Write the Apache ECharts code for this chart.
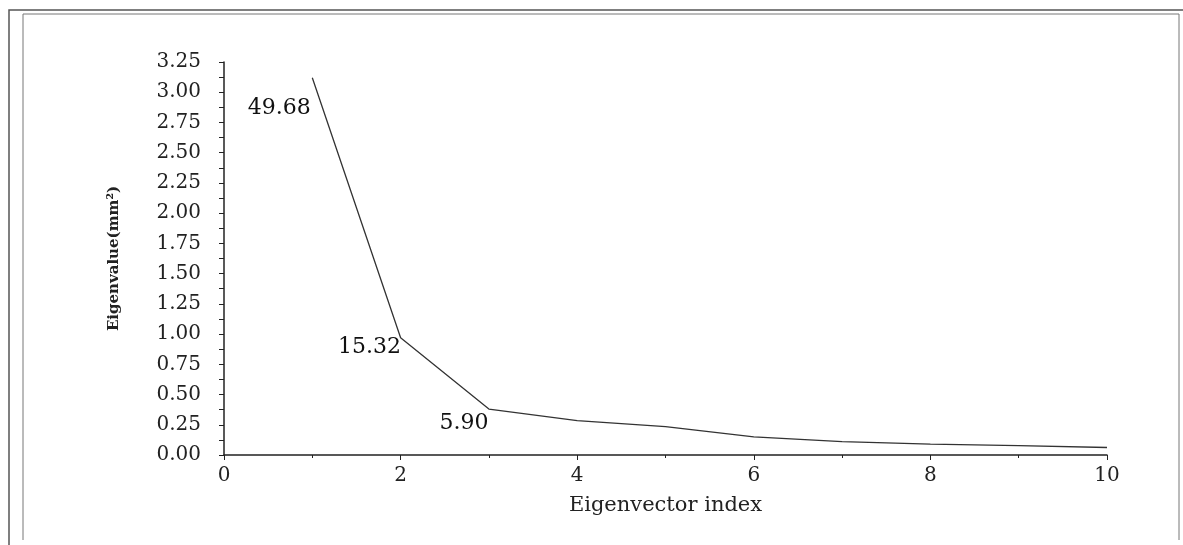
<!DOCTYPE html>
<html><head><meta charset="utf-8">
<script src="https://cdn.jsdelivr.net/npm/echarts@6/dist/echarts.min.js"></script>
<style>html,body{margin:0;padding:0;background:#fff}#c{width:1183px;height:545px}</style>
</head><body><div id="c"></div>
<script>
const xIndex = [1, 2, 3, 4, 5, 6, 7, 8, 9, 10];
const eigenvalues = [3.12, 0.97, 0.38, 0.285, 0.235, 0.15, 0.11, 0.09, 0.078, 0.062];
const pointLabels = ['49.68', '15.32', '5.90', '', '', '', '', '', '', ''];
const labelOffsets = [[-1, 31], [1, 10], [0, 14], [0,0],[0,0],[0,0],[0,0],[0,0],[0,0],[0,0]];
const xTitle = 'Eigenvector index';
const yTitle = 'Eigenvalue(mm²)';

const font = 'DejaVu Serif, Liberation Serif, serif';
const chart = echarts.init(document.getElementById('c'), null, {renderer: 'canvas'});
chart.setOption({
  animation: false,
  backgroundColor: '#fff',
  graphic: [
    {type: 'polyline', shape: {points: [[9, 545], [9, 10], [1183, 10]]}, style: {stroke: '#555', lineWidth: 1.5, fill: null}},
    {type: 'polyline', shape: {points: [[23, 540], [23, 14], [1179, 14], [1179, 540]]}, style: {stroke: '#777', lineWidth: 1, fill: null}}
  ],
  grid: {left: 224, right: 76, top: 62, bottom: 90},
  xAxis: {
    type: 'value', min: 0, max: 10, interval: 2,
    name: xTitle, nameLocation: 'middle', nameGap: 40,
    nameTextStyle: {fontFamily: font, fontSize: 21, color: '#222'},
    axisLine: {lineStyle: {color: '#222', width: 1.5}},
    axisTick: {show: true, length: 5, lineStyle: {color: '#222'}},
    minorTick: {show: true, splitNumber: 2, length: 3, lineStyle: {color: '#222'}},
    splitLine: {show: false},
    axisLabel: {fontFamily: font, fontSize: 20, color: '#222', margin: 11}
  },
  yAxis: {
    type: 'value', min: 0, max: 3.25, interval: 0.25,
    name: yTitle, nameLocation: 'middle', nameGap: 102, nameRotate: 90,
    nameTextStyle: {fontFamily: font, fontSize: 15, fontWeight: 'bold', color: '#222'},
    axisLine: {show: true, lineStyle: {color: '#222', width: 1.5}},
    axisTick: {show: true, length: 5, lineStyle: {color: '#222'}},
    minorTick: {show: true, splitNumber: 2, length: 5, lineStyle: {color: '#222'}},
    splitLine: {show: false},
    axisLabel: {fontFamily: font, fontSize: 20, color: '#222', margin: 23,
      formatter: v => v.toFixed(2)}
  },
  series: [{
    type: 'line',
    showSymbol: false, symbol: 'none',
    lineStyle: {color: '#333', width: 1.3},
    data: xIndex.map((x, i) => [x, eigenvalues[i]])
  }, {
    type: 'scatter',
    symbolSize: 1,
    itemStyle: {color: 'rgba(255,255,255,0)'},
    silent: true,
    data: xIndex.map((x, i) => ({
      value: [x, eigenvalues[i]],
      label: {show: true, position: 'left', distance: 0,
        offset: labelOffsets[i], formatter: pointLabels[i],
        fontFamily: font, fontSize: 22, color: '#111', opacity: 1}
    })).filter((d, i) => pointLabels[i] !== '')
  }]
});
</script></body></html>
